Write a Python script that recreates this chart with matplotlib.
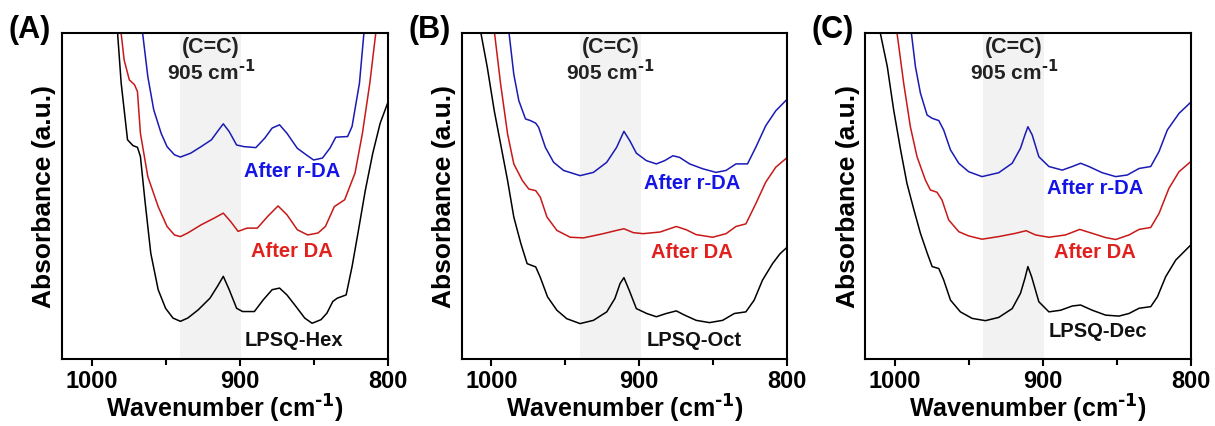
import matplotlib
matplotlib.use("Agg")
import matplotlib.pyplot as plt

plt.rcParams['font.family'] = ['Liberation Sans', 'DejaVu Sans']
plt.rcParams['font.weight'] = 'bold'

# ---- panel A : LPSQ-Hex ----
a_wn_black = [984, 980, 975.7, 972, 969, 967, 964, 960, 955, 950, 945, 940, 935, 928, 920, 915, 911,
              907, 902, 898, 890, 884, 878, 873, 868, 862, 856, 851, 845, 841, 837, 834, 828, 824,
              820, 815, 810, 805, 800]
a_black = [110, 84.7, 67.3, 65.5, 65.0, 62.2, 48.9, 32.5, 21.3, 15.6, 12.6, 11.6, 12.6, 15.1, 18.7,
           22.3, 25.4, 21.3, 15.6, 14.6, 14.6, 18.2, 21.3, 21.8, 19.7, 16.2, 12.6, 11.0, 12.1, 14.1,
           17.7, 18.7, 19.7, 28.4, 38.7, 51.9, 63.2, 72.4, 78.5]
a_wn_red = [982, 978, 974.5, 971, 969, 967, 962, 955, 949, 944, 940, 935, 926, 917, 911, 906, 901,
            895, 888, 881, 874, 868, 861, 854, 847, 842, 836, 829, 822, 817, 812, 808, 805]
a_red = [108, 91.8, 85.7, 84.2, 82.1, 69.3, 56.0, 46.8, 40.7, 38.1, 37.6, 38.7, 41.2, 43.3, 44.8,
         42.2, 39.2, 40.2, 40.2, 43.8, 47.0, 44.3, 39.7, 38.1, 38.7, 40.7, 46.8, 48.9, 57.1, 69.3,
         84.7, 100, 110]
a_wn_blue = [968, 965.5, 962, 958, 953, 949, 944, 940, 933, 926, 919, 915, 911, 907, 902, 897, 889,
             883, 878, 873, 868, 861, 855, 850, 844, 839, 835, 827, 824, 819, 816, 813]
a_blue = [108, 100, 86.7, 76.5, 69.3, 65.2, 62.7, 62.0, 63.2, 65.2, 67.3, 69.8, 72.2, 69.8, 65.7,
          65.2, 64.9, 67.8, 70.9, 71.9, 69.3, 64.7, 62.7, 61.1, 61.7, 64.7, 68.1, 68.3, 71.4, 84.7,
          100, 110]

# ---- panel B : LPSQ-Oct ----
b_wn_black = [1009, 1007, 1002.7, 998, 993.7, 989, 984.8, 980, 975.8, 973, 970, 967, 962, 955.7, 949,
              940, 931, 922, 916.5, 913, 910.4, 906.8, 902, 895, 888.5, 881.8, 875, 869.4, 861.6,
              852.6, 843.7, 835.8, 828, 822.4, 816.8, 810, 805, 800]
b_black = [108, 100, 89.5, 76.2, 66.0, 54.8, 43.6, 35.4, 29.3, 28.8, 28.3, 25.2, 19.1, 15.0, 12.4,
           10.9, 11.9, 14.5, 18.6, 23.2, 25.0, 21.1, 15.5, 14.0, 13.0, 14.0, 14.8, 13.5, 11.9, 11.2,
           11.9, 14.0, 14.5, 18.1, 24.2, 29.3, 32.3, 34.4]
b_wn_red = [1000, 997.8, 993.7, 989, 984.8, 979, 974.7, 970, 966.9, 962.4, 955.7, 946.7, 937.7, 924.3,
            915.3, 910.4, 904, 897.4, 886, 875, 868.3, 861.6, 850.4, 841.4, 834.7, 828, 821.3, 814.6,
            807.8, 800]
b_red = [108, 100, 84.4, 69.1, 59.9, 54.8, 52.2, 51.7, 49.7, 43.6, 39.5, 37.4, 37.2, 38.5, 39.5,
         40.0, 38.8, 38.5, 39.0, 40.7, 39.7, 38.2, 37.4, 38.5, 40.7, 41.5, 47.7, 54.3, 58.9, 61.9]
b_wn_blue = [990, 988, 984.8, 981.4, 976.9, 973.6, 970, 968, 963.5, 957.9, 951.2, 940, 931, 922, 915.3,
             910.4, 906.4, 902, 895.2, 888.5, 882.9, 877.3, 872.8, 866, 857.1, 848.2, 841.4, 834.7,
             826.9, 821.3, 814.6, 807.8, 800]
b_blue = [108, 100, 87.4, 79.3, 73.7, 73.2, 72.4, 71.1, 65.0, 60.4, 57.9, 56.3, 57.3, 60.4, 65.0,
          69.9, 67.0, 63.2, 60.9, 59.9, 60.9, 62.4, 61.9, 59.9, 58.4, 57.3, 57.9, 59.9, 59.9, 65.0,
          71.6, 76.2, 79.8]

# ---- panel C : LPSQ-Dec ----
c_wn_black = [1012, 1009.7, 1005, 1000.7, 996, 991.7, 987, 982.6, 978, 974.7, 970.2, 966.9, 962.3,
              955.6, 947.7, 938.7, 929.7, 920.6, 915, 912, 910, 907.5, 902.6, 895.8, 887.9, 880,
              874.4, 866.5, 857.5, 848.5, 841.7, 834.9, 827, 822.5, 816.9, 810.1, 800]
c_black = [108, 100, 89.8, 76.5, 64.2, 53.9, 45.8, 38.6, 32.5, 28.4, 27.8, 24.3, 18.1, 14.5, 12.5,
           11.8, 12.8, 15.5, 20.2, 24.8, 28.4, 25.3, 17.6, 14.5, 15.0, 16.3, 16.6, 15.0, 13.5, 13.2,
           14.0, 15.6, 16.1, 19.1, 25.3, 30.4, 35.0]
c_wn_red = [1000.5, 998.4, 993.9, 989.4, 984.9, 979.3, 975.9, 971.4, 968, 963.5, 956.7, 950, 941,
            929.7, 918.4, 911.2, 904.8, 895.8, 884.6, 875, 866.5, 857.5, 850.7, 841.7, 834.9, 827,
            821.4, 814.7, 807.9, 800]
c_red = [108, 100, 84.6, 71.3, 62.1, 55.0, 51.9, 51.2, 48.8, 42.7, 39.1, 37.8, 36.8, 37.6, 38.6,
         39.4, 38.1, 37.4, 38.1, 39.8, 38.6, 37.3, 36.7, 38.1, 39.8, 40.4, 44.7, 52.4, 57.5, 60.6]
c_wn_blue = [990.5, 988.7, 986, 982.6, 978.1, 974.7, 970.2, 966.9, 962.3, 956.7, 950, 941, 929.7,
             920.6, 915, 912, 910, 907.1, 902.6, 895.8, 886.8, 880, 874.4, 868.8, 859.8, 850.7,
             842.8, 834.9, 827, 821.4, 815.8, 807.9, 800]
c_blue = [108, 100, 89.8, 81.6, 74.9, 73.9, 73.2, 70.3, 64.2, 60.1, 57.5, 56.0, 57.2, 60.1, 64.7,
          68.8, 71.3, 68.8, 62.1, 59.1, 58.0, 59.1, 60.1, 59.1, 57.2, 56.0, 56.5, 58.5, 59.1, 63.7,
          70.3, 75.4, 78.8]

panel_tags = ['(A)', '(B)', '(C)']
sample_names = ['LPSQ-Hex', 'LPSQ-Oct', 'LPSQ-Dec']
series_labels = ['After r-DA', 'After DA']

panels = [
    (a_wn_black, a_black, a_wn_red, a_red, a_wn_blue, a_blue),
    (b_wn_black, b_black, b_wn_red, b_red, b_wn_blue, b_blue),
    (c_wn_black, c_black, c_wn_red, c_red, c_wn_blue, c_blue),
]
# label heights (y in axes units) for r-DA, DA, sample
label_y = [(57.6, 33.0, 5.7), (54.0, 32.7, 5.8), (52.4, 32.8, 8.4)]
shade = (940, 899)

line_blue, line_red = '#1a1ab4', '#c81818'
text_blue, text_red = '#1414e6', '#e0201c'

sup = '$^{\\mathbf{\\text{-}1}}$'

fig = plt.figure(figsize=(12.15, 4.26), dpi=100)
lefts = [0.051, 0.380, 0.712]

for i, (wk, k, wr, r, wb, b) in enumerate(panels):
    ax = fig.add_axes([lefts[i], 0.157, 0.268, 0.765])
    ax.axvspan(shade[0], shade[1], color='#f2f2f2', zorder=0, lw=0)
    ax.plot(wk, k, color='black', lw=1.1)
    ax.plot(wr, r, color=line_red, lw=1.1)
    ax.plot(wb, b, color=line_blue, lw=1.1)
    ax.set_xlim(1020, 800)
    ax.set_ylim(0, 100)
    ax.set_yticks([])
    ax.set_xticks([1000, 900, 800])
    ax.set_xticks([950, 850], minor=True)
    ax.tick_params(axis='x', which='both', direction='out', width=1.5, labelsize=17, pad=3)
    ax.tick_params(axis='x', which='major', length=5)
    ax.tick_params(axis='x', which='minor', length=4)
    for s in ax.spines.values():
        s.set_linewidth(1.5)
    for lab in ax.get_xticklabels():
        lab.set_fontweight('bold')
    ax.set_xlabel('Wavenumber (cm' + sup + ')', fontsize=18, fontweight='bold', labelpad=0)
    ax.set_ylabel('Absorbance (a.u.)', fontsize=19, fontweight='bold', labelpad=4)

    ax.text(919.5, 95.6, '(C=C)', ha='center', va='center', fontsize=15.5, fontweight='bold',
            color='#222222')
    ax.text(919.5, 88.2, '905 cm' + sup, ha='center', va='center', fontsize=15,
            fontweight='bold', color='#222222')
    ry, dy, sy = label_y[i]
    ax.text(864.5, ry, series_labels[0], ha='center', va='center', fontsize=14.5,
            fontweight='bold', color=text_blue)
    ax.text(864.5, dy, series_labels[1], ha='center', va='center', fontsize=14.5,
            fontweight='bold', color=text_red)
    ax.text(863, sy, sample_names[i], ha='center', va='center', fontsize=14.5,
            fontweight='bold', color='#111111')

    fig.text(lefts[i] - 0.044, 0.93, panel_tags[i], ha='left', va='center', fontsize=22,
             fontweight='bold')

fig.savefig('out.png', dpi=100)
